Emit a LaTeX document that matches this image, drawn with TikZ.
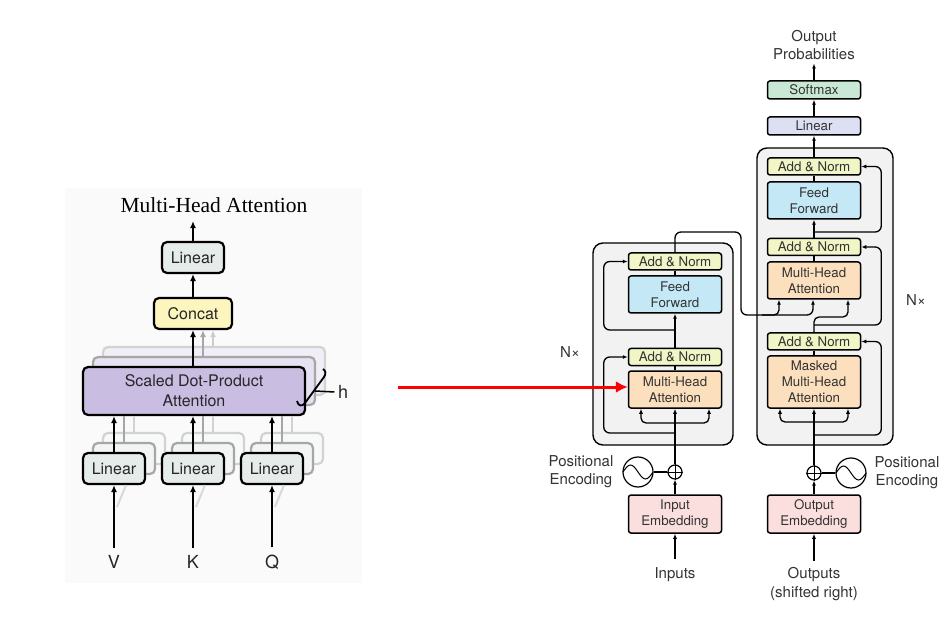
\documentclass[tikz,border=0pt]{standalone}
\usepackage{fontspec}
\setmainfont{TeX Gyre Heros}
\newfontfamily\titlefont{Liberation Serif}
\usetikzlibrary{calc,arrows.meta}
\definecolor{anfill}{HTML}{F2F5C6}
\definecolor{fffill}{HTML}{C4E8F6}
\definecolor{mhafill}{HTML}{FCE0BE}
\definecolor{embfill}{HTML}{FBDEDE}
\definecolor{linfill}{HTML}{DDDFF3}
\definecolor{smfill}{HTML}{C9E9D4}
\definecolor{blockfill}{HTML}{F2F2F2}
\definecolor{mhlinfill}{HTML}{E6ECEA}
\definecolor{concatfill}{HTML}{FCF6BE}
\definecolor{sdpafill}{HTML}{C9BDE2}
\begin{document}
\begin{tikzpicture}[x=1pt,y=-1pt,
    box/.style={draw=black,line width=1.5pt,rounded corners=2.5pt,inner sep=0pt,align=center,
        minimum width=93pt,font=\fontsize{13.3}{16}\selectfont,text=black!80},
    an/.style={box,fill=anfill,minimum height=17pt},
    ff/.style={box,fill=fffill,minimum height=37pt},
    mha/.style={box,fill=mhafill,minimum height=37pt},
    emb/.style={box,fill=embfill,minimum height=38pt},
    block/.style={draw=black,fill=blockfill,line width=1.4pt,rounded corners=10pt},
    big/.style={draw=black,line width=2.2pt,rounded corners=5pt,inner sep=0pt,align=center,
        font=\fontsize{16}{20}\selectfont,text=black!85},
    lin/.style={big,fill=mhlinfill,minimum width=62pt,minimum height=31pt},
    lbl/.style={align=center,font=\fontsize{15}{18.5}\selectfont,text=black!80},
    vkq/.style={font=\fontsize{18}{20}\selectfont,text=black!85},
    arr/.style={-{Latex[length=5pt,width=4pt]},line width=1.3pt},
    bigarr/.style={-{Latex[length=7pt,width=6pt]},line width=2pt},
    ]
                \useasboundingbox (0,0) rectangle (948,636);
                % multi-head attention
                \fill[black!2] (65,188) rectangle (362,583);
                \node[font=\titlefont\fontsize{21.5}{24}\selectfont] (mhTitle) at (214,205) {Multi-Head Attention};
                \node[lin] (mhLinear) at (193,257.5) {Linear};
                \node[big,fill=concatfill,minimum width=78pt,minimum height=31pt] (concat) at (193,313.5) {Concat};
                \node[big,fill=sdpafill!25,draw=gray!35,minimum width=222pt,minimum height=48pt] (sdpa3) at (214,371) {};
                \node[big,fill=sdpafill!45,draw=gray!70,minimum width=222pt,minimum height=48pt] (sdpa2) at (204,381) {};
                \node[big,fill=sdpafill,minimum width=222pt,minimum height=48pt] (sdpa) at (194,391) {Scaled Dot-Product\\Attention};
                \draw[bigarr,gray!40] ($(sdpa3.north)+(-1,0)$) -- ($(concat.south)+(20,0)$);
                \draw[bigarr,gray!70] ($(sdpa2.north)+(-1,0)$) -- ($(concat.south)+(10,0)$);
                \draw[bigarr] (concat.south |- sdpa.north) -- (concat.south);
                \draw[bigarr] (concat) -- (mhLinear);
                \draw[bigarr,shorten >=5pt] (mhLinear.north) -- (mhLinear.north |- mhTitle.south);
                \draw[line width=1.8pt] (297,401) .. controls (298,406) and (302,407) .. (305,403) -- (324,377) .. controls (326,374) and (326,371) .. (323,369);
                \node[vkq] (hLabel) at (343,392) {h};
                \coordinate (braceMid) at (315,391);
                \draw[line width=1.5pt] (braceMid) -- (hLabel.west);
                % the three linear stacks
                \node[lin,fill=mhlinfill!30,draw=gray!35] (linV3) at (134,448.5) {};
                \node[lin,fill=mhlinfill!50,draw=gray!70] (linV2) at (124,458.5) {};
                \node[lin] (linV) at (114,468.5) {Linear};
                \node[lin,fill=mhlinfill!30,draw=gray!35] (linK3) at (213,448.5) {};
                \node[lin,fill=mhlinfill!50,draw=gray!70] (linK2) at (203,458.5) {};
                \node[lin] (linK) at (193,468.5) {Linear};
                \node[lin,fill=mhlinfill!30,draw=gray!35] (linQ3) at (292,448.5) {};
                \node[lin,fill=mhlinfill!50,draw=gray!70] (linQ2) at (282,458.5) {};
                \node[lin] (linQ) at (272,468.5) {Linear};
                \draw[line width=2pt,gray!35] (linV3.north) -- (linV3.north |- sdpa.south);
                \draw[line width=2pt,gray!70] (linV2.north) -- (linV2.north |- sdpa.south);
                \draw[line width=2pt,gray!35] (linK3.north) -- (linK3.north |- sdpa.south);
                \draw[line width=2pt,gray!70] (linK2.north) -- (linK2.north |- sdpa.south);
                \draw[line width=2pt,gray!35] (linQ3.north) -- (linQ3.north |- sdpa.south);
                \draw[line width=2pt,gray!70] (linQ2.north) -- (linQ2.north |- sdpa.south);
                \draw[bigarr] (linV) -- (linV |- sdpa.south);
                \draw[bigarr] (linK) -- (linK |- sdpa.south);
                \draw[bigarr] (linQ) -- (linQ |- sdpa.south);
                \node[vkq] (inV) at (114,562) {V};
                \node[vkq] (inK) at (193,562) {K};
                \node[vkq] (inQ) at (272,562) {Q};
                \draw[line width=2pt,gray!30] ($(linV.south)+(3,22)$) -- ($(linV.south)+(12,0)$);
                \draw[line width=2pt,gray!30] ($(linK.south)+(3,22)$) -- ($(linK.south)+(12,0)$);
                \draw[line width=2pt,gray!30] ($(linQ.south)+(3,22)$) -- ($(linQ.south)+(12,0)$);
                \draw[bigarr,shorten <=4pt] (inV) -- (linV);
                \draw[bigarr,shorten <=4pt] (inK) -- (linK);
                \draw[bigarr,shorten <=4pt] (inQ) -- (linQ);
                % transformer: blocks
                \node[block,minimum width=140pt,minimum height=202pt] (encBlock) at (663,344) {};
                \node[block,minimum width=136pt,minimum height=297pt] (decBlock) at (825,296.5) {};
                % encoder
                \node[emb] (encEmb) at (675,514) {Input\\Embedding};
                \node[mha] (encMHA) at (675,389.5) {Multi-Head\\Attention};
                \node[an] (encAN1) at (675,357) {Add \& Norm};
                \node[ff] (encFF) at (675,294.5) {Feed\\Forward};
                \node[an] (encAN2) at (675,261.5) {Add \& Norm};
                \node[draw,circle,line width=1.2pt,minimum size=14pt,inner sep=0pt] (encPlus) at (675,472) {};
                \draw[line width=1pt] (encPlus.north) -- (encPlus.south) (encPlus.west) -- (encPlus.east);
                \node[draw,circle,line width=1.2pt,minimum size=30pt,inner sep=0pt] (encPE) at (638,472) {};
                \draw[line width=1pt] ($(encPE.center)+(-15,0)$) sin ($(encPE.center)+(-7.5,-7)$) cos (encPE.center) sin ($(encPE.center)+(7.5,7)$) cos ($(encPE.center)+(15,0)$);
                \node[lbl] (encPELabel) at (581,471.5) {Positional\\Encoding};
                \node[lbl] (inputs) at (675,575) {Inputs};
                \node[lbl] (encN) at (570,352) {N×};
                \coordinate (encResA) at (675,433);
                \coordinate (encSplit) at (675,423);
                \coordinate (encResB) at (675,330);
                \coordinate (encOut) at (741,232);
                \coordinate (crossIn) at (741,315);
                \draw[arr,shorten <=5pt] (inputs) -- (encEmb);
                \draw[arr] (encEmb) -- (encPlus);
                \draw[line width=1.3pt] (encPE) -- (encPlus);
                \draw[arr] (encPlus) -- (encMHA);
                \draw[arr,rounded corners=5pt] (encSplit) -| ($(encMHA.south)+(-34,0)$);
                \draw[arr,rounded corners=5pt] (encSplit) -| ($(encMHA.south)+(34,0)$);
                \draw[arr,rounded corners=6pt] (encResA) -| ($(encAN1.west)+(-24,0)$) -- (encAN1.west);
                \draw[line width=1.3pt] (encMHA) -- (encAN1);
                \draw[arr] (encAN1) -- (encFF);
                \draw[arr,rounded corners=6pt] (encResB) -| ($(encAN2.west)+(-24,0)$) -- (encAN2.west);
                \draw[line width=1.3pt] (encFF) -- (encAN2);
                % decoder
                \node[emb] (decEmb) at (814,514) {Output\\Embedding};
                \node[mha,minimum height=52pt] (decMMHA) at (814,382) {Masked\\Multi-Head\\Attention};
                \node[an] (decAN1) at (814,341.5) {Add \& Norm};
                \node[mha] (decMHA) at (814,280.5) {Multi-Head\\Attention};
                \node[an] (decAN2) at (814,247) {Add \& Norm};
                \node[ff] (decFF) at (814,200.5) {Feed\\Forward};
                \node[an] (decAN3) at (814,166.5) {Add \& Norm};
                \node[box,fill=linfill,minimum height=18pt] (decLinear) at (814,126) {Linear};
                \node[box,fill=smfill,minimum height=18pt] (softmax) at (814,90) {Softmax};
                \node[lbl] (outProb) at (814,45) {Output\\Probabilities};
                \node[draw,circle,line width=1.2pt,minimum size=14pt,inner sep=0pt] (decPlus) at (814,473) {};
                \draw[line width=1pt] (decPlus.north) -- (decPlus.south) (decPlus.west) -- (decPlus.east);
                \node[draw,circle,line width=1.2pt,minimum size=30pt,inner sep=0pt] (decPE) at (851,473) {};
                \draw[line width=1pt] ($(decPE.center)+(-15,0)$) sin ($(decPE.center)+(-7.5,-7)$) cos (decPE.center) sin ($(decPE.center)+(7.5,7)$) cos ($(decPE.center)+(15,0)$);
                \node[lbl] (decPELabel) at (907,472.5) {Positional\\Encoding};
                \node[lbl] (outputs) at (814,584) {Outputs\\(shifted right)};
                \node[lbl] (decN) at (916,300) {N×};
                \coordinate (decResA) at (814,435);
                \coordinate (decSplit) at (814,422);
                \coordinate (decResB) at (814,325);
                \coordinate (decUp) at (814,317);
                \coordinate (decResC) at (814,232);
                \coordinate (crossSplit) at (762,315);
                \draw[arr,shorten <=3pt] (outputs) -- (decEmb);
                \draw[arr] (decEmb) -- (decPlus);
                \draw[line width=1.3pt] (decPE) -- (decPlus);
                \draw[arr] (decPlus) -- (decMMHA);
                \draw[arr,rounded corners=5pt] (decSplit) -| ($(decMMHA.south)+(-34,0)$);
                \draw[arr,rounded corners=5pt] (decSplit) -| ($(decMMHA.south)+(34,0)$);
                \draw[arr,rounded corners=6pt] (decResA) -| ($(decAN1.east)+(20,0)$) -- (decAN1.east);
                \draw[line width=1.3pt] (decMMHA) -- (decAN1);
                \draw[arr,rounded corners=5pt] (decAN1.north) -- (decUp) -| ($(decMHA.south)+(34,0)$);
                \draw[arr,rounded corners=6pt] (decResB) -| ($(decAN2.east)+(20,0)$) -- (decAN2.east);
                \draw[line width=1.3pt] (decMHA) -- (decAN2);
                \draw[arr] (decAN2) -- (decFF);
                \draw[arr,rounded corners=6pt] (decResC) -| ($(decAN3.east)+(20,0)$) -- (decAN3.east);
                \draw[line width=1.3pt] (decFF) -- (decAN3);
                \draw[arr] (decAN3) -- (decLinear);
                \draw[arr] (decLinear) -- (softmax);
                \draw[arr] (softmax) -- (outProb);
                % encoder output into the decoder
                \draw[arr,rounded corners=6pt] (encAN2.north) |- (encOut) -- (crossIn) -| ($(decMHA.south)+(-1,0)$);
                \draw[arr,rounded corners=5pt] (crossSplit) -| ($(decMHA.south)+(-35,0)$);
                % red pointer
                \coordinate (redStart) at (398,387);
                \draw[red,line width=3pt,-{Latex[length=12pt,width=12pt]}] (redStart) -- (encMHA.west |- redStart);
\end{tikzpicture}
\end{document}
